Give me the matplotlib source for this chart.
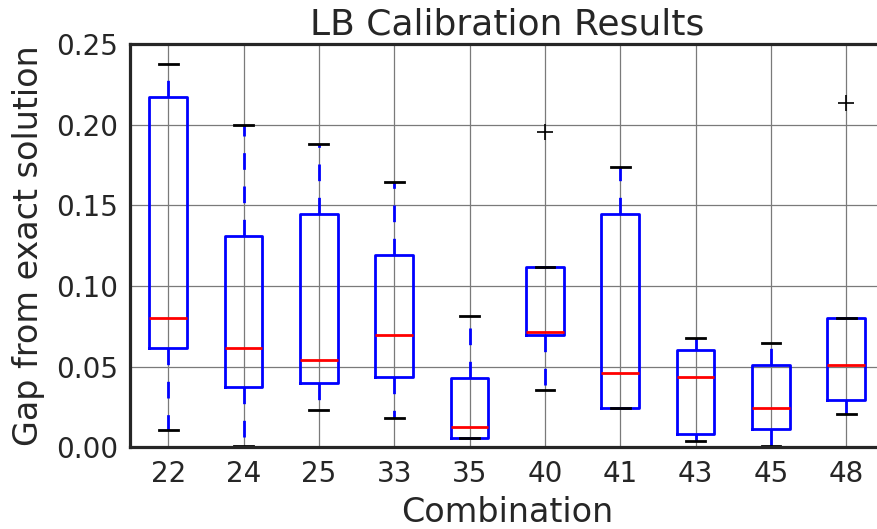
import matplotlib
matplotlib.use('Agg')
import matplotlib.pyplot as plt

# values
combos = ['22', '24', '25', '33', '35', '40', '41', '43', '45', '48']
whislo = [0.0106, 0.0008, 0.0228, 0.0182, 0.0054, 0.0357, 0.0241, 0.0039, 0.0008, 0.0205]
q1 = [0.0614, 0.0375, 0.0400, 0.0433, 0.0058, 0.0695, 0.0241, 0.0083, 0.0110, 0.0290]
med = [0.0800, 0.0614, 0.0543, 0.0695, 0.0122, 0.0715, 0.0462, 0.0433, 0.0243, 0.0512]
q3 = [0.2174, 0.1308, 0.1449, 0.1192, 0.0431, 0.1115, 0.1449, 0.0605, 0.0512, 0.0804]
whishi = [0.2376, 0.1998, 0.1882, 0.1646, 0.0815, 0.1115, 0.1741, 0.0674, 0.0649, 0.0804]
fliers = [[], [], [], [], [], [0.1957], [], [], [], [0.2137]]

dark = '#262626'
plt.rcParams['font.family'] = ['DejaVu Sans']
plt.rcParams['text.color'] = dark
plt.rcParams['axes.labelcolor'] = dark
plt.rcParams['xtick.color'] = dark
plt.rcParams['ytick.color'] = dark

fig = plt.figure(figsize=(8.78, 5.29), dpi=100)
ax = fig.add_axes([130.5 / 878, 82 / 529, 753.5 / 878, 402.5 / 529])

stats = []
for i in range(len(combos)):
    stats.append({'label': combos[i], 'whislo': whislo[i], 'q1': q1[i], 'med': med[i],
                  'q3': q3[i], 'whishi': whishi[i], 'fliers': fliers[i]})

ax.bxp(stats, positions=range(1, len(combos) + 1), widths=0.5,
       boxprops=dict(color='blue', linewidth=2),
       whiskerprops=dict(color='blue', linewidth=2, linestyle=(0, (6, 6))),
       capprops=dict(color='black', linewidth=2),
       medianprops=dict(color='red', linewidth=2),
       flierprops=dict(marker='+', markeredgecolor='black', markersize=11,
                       markeredgewidth=1.2, linestyle='none'))

ax.set_xlim(0.5, 10.5)
ax.set_ylim(0, 0.25)
ax.set_yticks([0.0, 0.05, 0.10, 0.15, 0.20, 0.25])
ax.set_yticklabels(['0.00', '0.05', '0.10', '0.15', '0.20', '0.25'])

ax.grid(True, color='#7a7a7a', linewidth=0.9)
ax.set_axisbelow(True)
ax.tick_params(length=0, labelsize=20, pad=9)
for s in ax.spines.values():
    s.set_color(dark)
    s.set_linewidth(2.3)

ax.set_title('LB Calibration Results', fontsize=26, pad=7)
ax.set_xlabel('Combination', fontsize=24, labelpad=6)
ax.set_ylabel('Gap from exact solution', fontsize=24, labelpad=8)

fig.savefig('out.png', dpi=100)
